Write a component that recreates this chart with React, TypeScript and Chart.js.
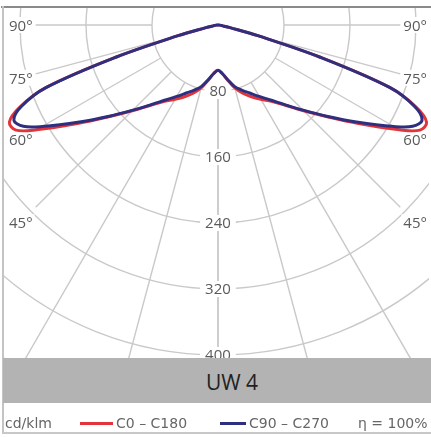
import React, { useEffect, useRef } from "react";
import { Chart, registerables } from "chart.js";

Chart.register(...registerables);

// ---- data (cd/klm vs. gamma angle in degrees) ----
const ANGLES = [0, 5, 10, 15, 20, 25, 30, 35, 40, 45, 50, 55, 60, 62.5, 65, 67.5, 70, 72.5, 75, 77.5, 80, 85, 90];
const C0_C180 = [55, 59, 68, 79, 88, 96, 104, 113, 127, 147, 173, 208, 254, 276, 279, 260, 222, 130, 50, 15, 6, 2, 0];
const C90_C270 = [55, 59, 67, 77, 84, 91, 100, 111, 126, 146, 172, 205, 246, 266, 273, 258, 222, 130, 50, 15, 6, 2, 0];

const RINGS = [80, 160, 240, 320, 400, 480];
const RING_LABELS = ["80", "160", "240", "320", "400"];
const SPOKES = [0, 15, 30, 45, 60, 75, 90];
const ANGLE_LABELS = [90, 75, 60, 45];
const SERIES_NAMES = ["C0 – C180", "C90 – C270"];
const TITLE = "UW 4";
const UNIT = "cd/klm";
const EFFICIENCY = "η = 100%";

// ---- styling ----
const RED = "#e3343b";
const BLUE = "#2f2f7f";
const GRID = "#c9c9c9";
const LABEL = "#5a5a5a";
const SPOKE_END = 221; // horizontal extent of spokes (in value units)
const LABEL_X = 239; // horizontal position of angle labels (in value units)

const rad = (d: number) => (d * Math.PI) / 180;

function toXY(values: number[]) {
  const pts: { x: number; y: number }[] = [];
  for (let i = ANGLES.length - 1; i >= 0; i--) {
    pts.push({ x: -values[i] * Math.sin(rad(ANGLES[i])), y: -values[i] * Math.cos(rad(ANGLES[i])) });
  }
  for (let i = 1; i < ANGLES.length; i++) {
    pts.push({ x: values[i] * Math.sin(rad(ANGLES[i])), y: -values[i] * Math.cos(rad(ANGLES[i])) });
  }
  return pts;
}

const gridPlugin = {
  id: "polarGrid",
  beforeDatasetsDraw(chart: any) {
    const { ctx, chartArea } = chart;
    const xs = chart.scales.x;
    const ys = chart.scales.y;
    const cx = xs.getPixelForValue(0);
    const cy = ys.getPixelForValue(0);
    ctx.save();
    ctx.beginPath();
    ctx.rect(chartArea.left, chartArea.top, chartArea.right - chartArea.left, chartArea.bottom - chartArea.top);
    ctx.clip();
    ctx.strokeStyle = GRID;
    ctx.lineWidth = 1.4;
    RINGS.forEach((v) => {
      const r = Math.abs(xs.getPixelForValue(v) - cx);
      ctx.beginPath();
      ctx.arc(cx, cy, r, 0, Math.PI * 2);
      ctx.stroke();
    });
    SPOKES.forEach((a) => {
      [-1, 1].forEach((s) => {
        const sin = Math.sin(rad(a));
        const cos = Math.cos(rad(a));
        const r0 = RINGS[0];
        const r1 = a >= 45 ? SPOKE_END / sin : 1000;
        ctx.beginPath();
        ctx.moveTo(xs.getPixelForValue(s * r0 * sin), ys.getPixelForValue(-r0 * cos));
        ctx.lineTo(xs.getPixelForValue(s * r1 * sin), ys.getPixelForValue(-r1 * cos));
        ctx.stroke();
      });
    });
    // ring labels
    ctx.font = "15px 'Open Sans'";
    ctx.textAlign = "center";
    ctx.textBaseline = "middle";
    RING_LABELS.forEach((t, i) => {
      const px = cx;
      const py = ys.getPixelForValue(-RINGS[i]);
      const w = ctx.measureText(t).width + 10;
      ctx.fillStyle = "#ffffff";
      ctx.fillRect(px - w / 2, py - 8, w, 16);
      ctx.fillStyle = LABEL;
      ctx.fillText(t, px, py + 1);
    });
    // angle labels
    ANGLE_LABELS.forEach((a) => {
      const dy = (LABEL_X * Math.cos(rad(a))) / Math.sin(rad(a));
      [-1, 1].forEach((s) => {
        const px = xs.getPixelForValue(s * LABEL_X);
        const py = ys.getPixelForValue(-dy);
        const t = a + "°";
        const w = ctx.measureText(t).width + 4;
        ctx.fillStyle = "#ffffff";
        ctx.fillRect(px - w / 2, py - 8, w, 16);
        ctx.fillStyle = LABEL;
        ctx.fillText(t, px, py + 2);
      });
    });
    ctx.restore();
  },
};

function PolarChart() {
  const ref = useRef<HTMLCanvasElement | null>(null);
  useEffect(() => {
    if (!ref.current) return;
    const chart = new Chart(ref.current, {
      type: "scatter",
      data: {
        datasets: [
          {
            label: SERIES_NAMES[1],
            data: toXY(C90_C270),
            showLine: true,
            borderColor: BLUE,
            borderWidth: 3,
            pointRadius: 0,
            tension: 0.35,
            fill: false,
            order: 0,
          },
          {
            label: SERIES_NAMES[0],
            data: toXY(C0_C180),
            showLine: true,
            borderColor: RED,
            borderWidth: 3,
            pointRadius: 0,
            tension: 0.35,
            fill: false,
            order: 1,
          },
        ],
      },
      options: {
        animation: false,
        responsive: true,
        maintainAspectRatio: false,
        layout: { padding: 0 },
        plugins: { legend: { display: false }, tooltip: { enabled: false }, title: { display: false } },
        scales: {
          x: { type: "linear", min: -260.6, max: 255.8, display: false },
          y: { type: "linear", min: -458.2, max: 20.6, display: false },
        },
      },
      plugins: [gridPlugin],
    } as any);
    return () => chart.destroy();
  }, []);
  return (
    <div style={{ position: "absolute", left: 3, top: 8, width: 426, height: 395 }}>
      <canvas ref={ref} />
    </div>
  );
}

export default function App() {
  const legendFont = "14px 'DejaVu Sans'";
  const textStyle: React.CSSProperties = {
    position: "absolute",
    top: 414,
    font: legendFont,
    color: "#666",
    lineHeight: "18px",
    whiteSpace: "nowrap",
  };
  return (
    <div style={{ position: "fixed", left: 0, top: 0, width: 431, height: 437, background: "#fff", overflow: "hidden" }}>
      <PolarChart />
      {/* frame */}
      <div style={{ position: "absolute", left: 1, top: 6, width: 430, height: 2, background: "#8a8a8a" }} />
      <div style={{ position: "absolute", left: 2, top: 6, width: 2, height: 428, background: "#c4c4c4" }} />
      <div style={{ position: "absolute", left: 2, top: 432, width: 429, height: 2, background: "#c8c8c8" }} />
      {/* title band */}
      <div
        style={{
          position: "absolute",
          left: 3,
          top: 358,
          width: 428,
          height: 45,
          background: "#b3b3b3",
        }}
      >
        <div
          style={{
            position: "absolute",
            left: 229 - 100,
            width: 200,
            top: 10,
            height: 30,
            lineHeight: "30px",
            textAlign: "center",
            font: "21px 'Open Sans'",
            color: "#222",
          }}
        >
          {TITLE}
        </div>
      </div>
      {/* legend */}
      <div style={{ ...textStyle, left: 5 }}>{UNIT}</div>
      <div style={{ position: "absolute", left: 80, top: 422, width: 33, height: 3, background: RED }} />
      <div style={{ ...textStyle, left: 116 }}>{SERIES_NAMES[0]}</div>
      <div style={{ position: "absolute", left: 220, top: 422, width: 26, height: 3, background: BLUE }} />
      <div style={{ ...textStyle, left: 249 }}>{SERIES_NAMES[1]}</div>
      <div style={{ ...textStyle, left: 358 }}>{EFFICIENCY}</div>
    </div>
  );
}
